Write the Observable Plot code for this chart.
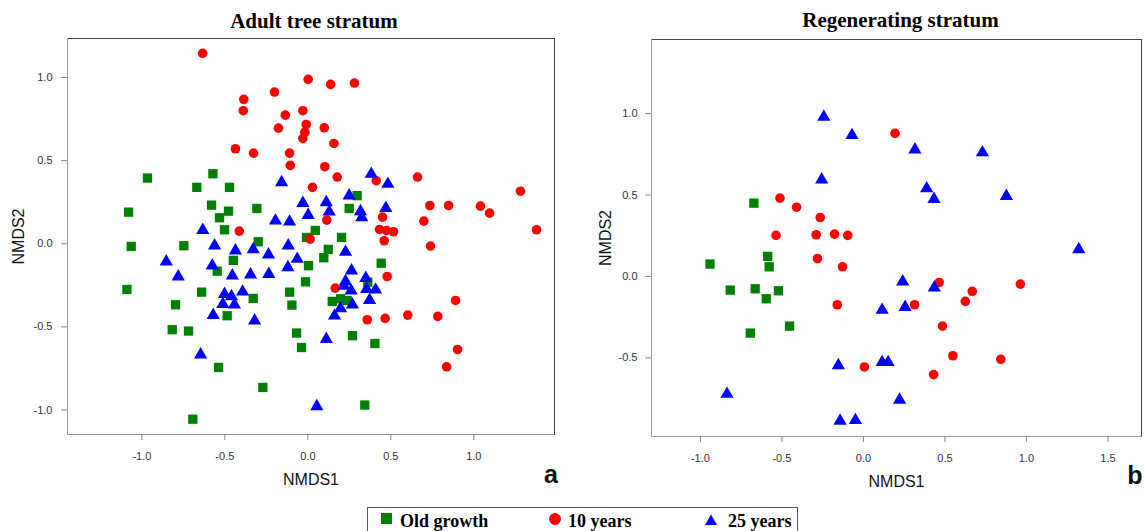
<!DOCTYPE html>
<html>
<head>
<meta charset="utf-8">
<script src="https://cdn.jsdelivr.net/npm/d3@7"></script>
<script src="https://cdn.jsdelivr.net/npm/@observablehq/plot@0.6"></script>
<style>
  body { margin: 0; background: #fff; }
  #wrap { position: relative; width: 1144px; height: 531px; overflow: hidden; background: #fff; }
</style>
</head>
<body>
<div id="wrap"></div>
<script>
// ---- categories / legend ----
const groups = ["Old growth", "10 years", "25 years"];
const groupColors = ["#008000", "#ff0000", "#0000ff"];
const groupSymbols = ["square", "circle", "triangle"];

// ---- panel titles / labels ----
const titles = ["Adult tree stratum", "Regenerating stratum"];
const letters = ["a", "b"];
const xLabel = "NMDS1";
const yLabel = "NMDS2";

// ---- tick values ----
const adultXTicks = [-1.0, -0.5, 0.0, 0.5, 1.0];
const adultYTicks = [-1.0, -0.5, 0.0, 0.5, 1.0];
const regenXTicks = [-1.0, -0.5, 0.0, 0.5, 1.0, 1.5];
const regenYTicks = [-0.5, 0.0, 0.5, 1.0];

// ---- axis ranges ----
const adultXDomain = [-1.448, 1.486];
const adultYDomain = [-1.147, 1.234];
const regenXDomain = [-1.30, 1.706];
const regenYDomain = [-0.983, 1.455];

// ---- Adult tree stratum: [NMDS1, NMDS2] ----
const adultOldGrowth = [
  [-0.966,0.395],[-0.572,0.421],[-0.669,0.339],[-0.472,0.339],[-1.080,0.190],[-0.580,0.232],
  [-0.478,0.196],[-0.307,0.212],[-0.532,0.156],[0.297,0.289],[0.249,0.212],[-0.502,0.084],
  [0.045,0.080],[-0.008,0.038],[0.203,0.038],[-0.299,0.012],[-1.064,-0.016],[-0.747,-0.012],
  [0.123,-0.034],[0.096,-0.084],[-0.449,-0.100],[0.004,-0.132],[-0.546,-0.165],[0.442,-0.117],
  [-1.090,-0.275],[-0.014,-0.229],[-0.640,-0.291],[-0.110,-0.291],[-0.329,-0.329],[-0.797,-0.367],
  [-0.096,-0.369],[0.147,-0.347],[0.197,-0.331],[0.237,-0.341],[-0.486,-0.433],[-0.817,-0.517],
  [-0.719,-0.525],[-0.068,-0.537],[0.269,-0.553],[0.404,-0.600],[-0.038,-0.624],[-0.538,-0.744],
  [-0.271,-0.864],[0.343,-0.970],[-0.693,-1.055],[0.361,-0.231]
];
const adultTenYears = [
  [-0.634,1.145],[0.002,0.988],[0.137,0.958],[0.281,0.966],[-0.201,0.912],[-0.386,0.868],
  [-0.389,0.800],[-0.136,0.773],[-0.030,0.800],[-0.010,0.717],[-0.018,0.671],[-0.030,0.633],
  [-0.177,0.695],[0.099,0.697],[0.157,0.603],[-0.436,0.571],[-0.327,0.545],[-0.110,0.545],
  [-0.106,0.471],[0.102,0.463],[0.177,0.401],[0.028,0.339],[0.412,0.379],[0.661,0.401],
  [1.281,0.316],[0.735,0.230],[0.848,0.230],[1.040,0.226],[1.095,0.184],[0.450,0.160],
  [0.114,0.142],[0.699,0.136],[1.378,0.084],[0.432,0.086],[0.474,0.080],[0.516,0.072],
  [-0.413,0.076],[0.014,0.028],[0.460,0.018],[0.739,-0.014],[0.478,-0.197],[0.165,-0.267],
  [0.890,-0.341],[0.358,-0.457],[0.466,-0.449],[0.602,-0.429],[0.783,-0.437],[0.902,-0.636],
  [0.836,-0.740]
];
const adultTwentyFive = [
  [-0.158,0.381],[0.382,0.431],[0.482,0.371],[0.249,0.301],[-0.030,0.256],[0.111,0.260],
  [0.002,0.184],[0.129,0.204],[0.317,0.206],[0.470,0.226],[0.325,0.170],[-0.195,0.150],
  [-0.110,0.144],[-0.633,0.094],[-0.562,0.000],[-0.118,0.000],[-0.436,-0.030],[-0.329,-0.022],
  [-0.237,-0.054],[0.227,-0.038],[-0.853,-0.096],[-0.576,-0.120],[-0.064,-0.080],[-0.120,-0.130],
  [-0.781,-0.186],[-0.455,-0.180],[-0.345,-0.174],[-0.235,-0.171],[0.263,-0.150],[0.349,-0.195],
  [0.227,-0.215],[0.217,-0.241],[0.261,-0.271],[0.354,-0.261],[0.408,-0.265],[-0.393,-0.277],
  [-0.502,-0.291],[-0.460,-0.305],[-0.512,-0.351],[-0.442,-0.355],[0.372,-0.327],[0.269,-0.355],
  [0.197,-0.377],[0.161,-0.421],[-0.570,-0.417],[-0.321,-0.451],[0.111,-0.562],[-0.646,-0.655],
  [0.054,-0.966]
];

// ---- Regenerating stratum: [NMDS1, NMDS2] ----
const regenOldGrowth = [
  [-0.672,0.450],[-0.587,0.123],[-0.578,0.059],[-0.941,0.076],[-0.817,-0.084],
  [-0.664,-0.076],[-0.596,-0.137],[-0.521,-0.088],[-0.453,-0.305],[-0.694,-0.348]
];
const regenTenYears = [
  [0.194,0.879],[-0.512,0.481],[-0.410,0.425],[-0.265,0.362],[-0.536,0.252],[-0.290,0.256],
  [-0.177,0.260],[-0.096,0.252],[-0.282,0.110],[-0.128,0.059],[-0.160,-0.174],[0.314,-0.174],
  [0.465,-0.037],[0.668,-0.092],[0.625,-0.153],[0.963,-0.047],[0.485,-0.305],[0.549,-0.487],
  [0.843,-0.509],[0.006,-0.556],[0.431,-0.603]
];
const regenTwentyFive = [
  [-0.243,0.992],[-0.070,0.879],[0.316,0.791],[0.730,0.773],[-0.256,0.607],[0.388,0.552],
  [0.433,0.487],[0.877,0.505],[1.321,0.178],[0.241,-0.020],[0.435,-0.057],[0.115,-0.194],
  [0.256,-0.176],[-0.154,-0.534],[0.115,-0.515],[0.152,-0.515],[-0.837,-0.710],[0.222,-0.746],
  [-0.143,-0.875],[-0.049,-0.871]
];

// ---- styling (not data) ----
const symbolRadius = { square: 5.25, circle: 4.8, triangle: 4.9 };
const symbolDy = { square: 0, circle: 0, triangle: 2 };
const fmt = d => d.toFixed(1);
const sans = "'Liberation Sans', Arial, sans-serif";
const serif = "'Liberation Serif', 'Times New Roman', serif";

function panel(cfg) {
  const series = cfg.series;
  return Plot.plot({
    width: cfg.width,
    height: 500,
    marginLeft: cfg.ml,
    marginRight: cfg.mr,
    marginTop: cfg.mt,
    marginBottom: cfg.mb,
    x: { domain: cfg.xDomain },
    y: { domain: cfg.yDomain },
    style: { fontFamily: sans, background: "transparent", overflow: "visible" },
    marks: [
      Plot.frame({ stroke: "#444" }),
      Plot.ruleX([cfg.xDomain[0]], { stroke: "#999" }),
      Plot.ruleY([cfg.yDomain[0]], { stroke: "#999" }),
      ...series.map((pts, i) => Plot.dot(pts, {
        x: d => d[0], y: d => d[1],
        symbol: groupSymbols[i],
        r: symbolRadius[groupSymbols[i]],
        dy: symbolDy[groupSymbols[i]],
        fill: groupColors[i],
        stroke: "none"
      })),
      Plot.axisX({ ticks: cfg.xTicks, tickFormat: fmt, tickSize: 6, tickPadding: 12,
        stroke: "#888", fill: "#333", fontSize: 11, label: null }),
      Plot.axisY({ ticks: cfg.yTicks, tickFormat: fmt, tickSize: 6, tickPadding: cfg.yPad,
        stroke: "#888", fill: "#333", fontSize: 11, label: null }),
      Plot.text([xLabel], { text: d => d, frameAnchor: "bottom", dy: 45,
        textAnchor: "middle", lineAnchor: "middle", fontSize: 16, fill: "#111" }),
      Plot.text([yLabel], { text: d => d, frameAnchor: "left", dx: cfg.yLabelDx, rotate: -90,
        textAnchor: "middle", lineAnchor: "middle", fontSize: 16, fill: "#111" }),
      Plot.text([cfg.title], { text: d => d, frameAnchor: "top", dx: cfg.titleDx, dy: cfg.titleDy,
        textAnchor: "middle", lineAnchor: "middle", fontSize: 21, fontWeight: "bold",
        fontFamily: serif, fill: "#000" }),
      Plot.text([cfg.letter], { text: d => d, frameAnchor: "bottom-right", dx: cfg.letterDx, dy: cfg.letterDy,
        textAnchor: "middle", lineAnchor: "middle", fontSize: 25, fontWeight: "bold", fill: "#111" })
    ]
  });
}

const wrap = document.getElementById("wrap");

const left = panel({
  width: 570, ml: 67, mr: 16, mt: 38, mb: 66,
  xDomain: adultXDomain, yDomain: adultYDomain,
  xTicks: adultXTicks, yTicks: adultYTicks, yPad: 9,
  series: [adultOldGrowth, adultTenYears, adultTwentyFive],
  title: titles[0], titleDx: 3, titleDy: -17.5,
  letter: letters[0], letterDx: -3.5, letterDy: 40,
  yLabelDx: -49
});
left.style.position = "absolute"; left.style.left = "0px"; left.style.top = "0px";
wrap.appendChild(left);

const right = panel({
  width: 564, ml: 71, mr: 3, mt: 39, mb: 64,
  xDomain: regenXDomain, yDomain: regenYDomain,
  xTicks: regenXTicks, yTicks: regenYTicks, yPad: 8,
  series: [regenOldGrowth, regenTenYears, regenTwentyFive],
  title: titles[1], titleDx: 4, titleDy: -19,
  letter: letters[1], letterDx: -6.5, letterDy: 39,
  yLabelDx: -46
});
right.style.position = "absolute"; right.style.left = "580px"; right.style.top = "0px";
wrap.appendChild(right);

// ---- legend box ----
const legendSymbolX = [386.5, 555, 711];
const legendTextX = [400, 568, 728];
const legendSymbolY = [518.5, 519, 521.5];
const legendSymbolSize = [121, 113, 62.4];
const lg = d3.select(wrap).append("svg")
  .attr("width", 1144).attr("height", 531)
  .style("position", "absolute").style("left", "0px").style("top", "0px");
lg.append("rect").attr("x", 367.5).attr("y", 507.5).attr("width", 430).attr("height", 40)
  .attr("fill", "none").attr("stroke", "#555");
const symMap = { square: d3.symbolSquare, circle: d3.symbolCircle, triangle: d3.symbolTriangle };
groups.forEach((g, i) => {
  lg.append("path")
    .attr("d", d3.symbol(symMap[groupSymbols[i]], legendSymbolSize[i])())
    .attr("transform", `translate(${legendSymbolX[i]},${legendSymbolY[i]})`)
    .attr("fill", groupColors[i]);
  lg.append("text").attr("x", legendTextX[i]).attr("y", 527)
    .attr("font-family", serif).attr("font-weight", "bold").attr("font-size", 18)
    .attr("fill", "#000").text(g);
});
</script>
</body>
</html>
